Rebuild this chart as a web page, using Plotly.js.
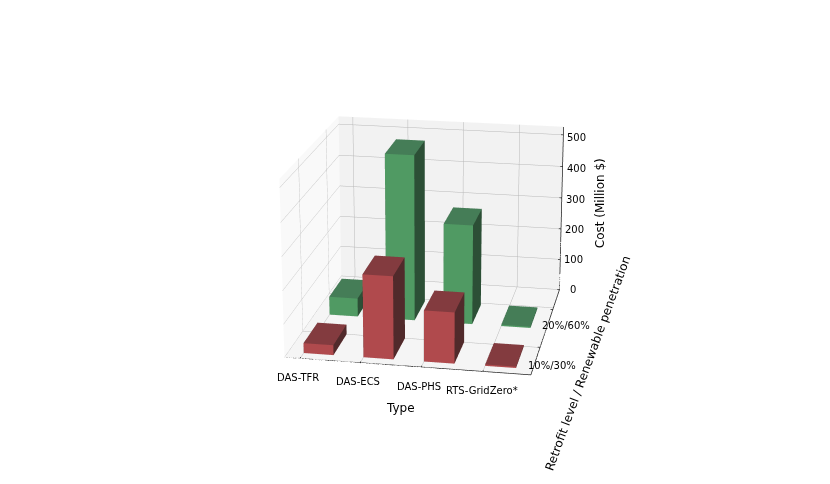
<!DOCTYPE html>
<html><head><meta charset="utf-8">
<script src="https://cdn.plot.ly/plotly-3.0.1.min.js"></script>
<style>html,body{margin:0;padding:0;background:#fff;width:830px;height:484px;overflow:hidden}
#w{position:absolute;left:0;top:0;width:830px;height:484px;overflow:hidden}
#c{position:absolute;left:-816px;top:-488px;width:2490px;height:1452px}</style>
</head><body><div id="w"><div id="c"></div></div>
<script>
const types = ["DAS-TFR","DAS-ECS","DAS-PHS","RTS-GridZero*"];
const levels = ["10%/30%","20%/60%"];
const levelPos = [0,0.95];
const costLow = [30,248,153,4];
const costHigh = [57,510,307,4];
const zTicks = [0,100,200,300,400,500];
const redShades = {front:"#b04a4d",side:"#512a2b",top:"#833b3f"};
const greenShades = {front:"#509a63",side:"#2c4f36",top:"#457d57"};
const barW = 0.5, barD = 0.5;
const xr = [-0.26,3.77], yr = [-0.63,1.5], zr = [0,525];
const axisCol = '#222222';
const lift = 0.6, inset = 0.004;

function cuboid(x0,y1,h,s){
  const x1=x0+barW,y0=y1-barD;
  return {type:'mesh3d',
    x:[x0,x1,x1,x0,x0,x1,x1,x0],
    y:[y0,y0,y1,y1,y0,y0,y1,y1],
    z:[0,0,0,0,h,h,h,h],
    i:[0,0,4,4,0,0,1,1,2,2,3,3],
    j:[1,2,5,6,1,5,2,6,3,7,0,4],
    k:[2,3,6,7,5,4,6,5,7,6,4,7],
    facecolor:[s.top,s.top,s.top,s.top,s.front,s.front,s.side,s.side,s.side,s.side,s.side,s.side],
    flatshading:true,opacity:1,
    lighting:{ambient:1,diffuse:0,specular:0,roughness:1,fresnel:0},
    hoverinfo:'skip',showscale:false};
}
function seg(xs,ys,zs){
  return {type:'scatter3d',mode:'lines',x:xs,y:ys,z:zs,line:{color:axisCol,width:1.5},hoverinfo:'skip',showlegend:false};
}
const data=[];
costHigh.forEach((v,i)=>data.push(cuboid(i,levelPos[1],v,greenShades)));
costLow.forEach((v,i)=>data.push(cuboid(i,levelPos[0],v,redShades)));
data.push(seg(xr,[yr[0],yr[0]],[lift,lift]));
data.push(seg([xr[1],xr[1]],yr,[lift,lift]));
data.push(seg([xr[1],xr[1]],[yr[1]-inset,yr[1]-inset],zr));
types.forEach((t,i)=>data.push(seg([i,i],[yr[0]-0.04,yr[0]+0.03],[lift,lift])));
levelPos.forEach(p=>data.push(seg([xr[1]-0.04,xr[1]+0.07],[p,p],[lift,lift])));
zTicks.forEach(z=>data.push(seg([xr[1]-0.04,xr[1]+0.07],[yr[1]-inset,yr[1]-inset],[z,z])));

const ann=[];
function lab(x,y,z,text,dx,dy,size,angle){
  ann.push({x,y,z,text,showarrow:false,xanchor:'center',yanchor:'middle',xshift:dx,yshift:dy,
    textangle:angle||0,font:{family:'DejaVu Sans',size:size||10,color:'#000'}});
}
const levelDx=[11.5,13.5], levelDy=[-18.5,-15.5];
types.forEach((t,i)=>lab(i,yr[0],0,t,-2+(i===3?1:0),-19));
levels.forEach((t,i)=>lab(xr[1],levelPos[i],0,t,levelDx[i],levelDy[i]));
zTicks.forEach(z=>lab(xr[1],yr[1],z,String(z),13.5,-3*z/500));
lab(1.5,yr[0],0,'Type',10,-42.5,12);
lab(xr[1],0.5,0,'Retrofit level / Renewable penetration',41,-36,12,-70);
lab(xr[1],yr[1],260,'Cost (Million $)',38.5,7,12,-90);

const axis = {showbackground:true,gridcolor:'#b8b8b8',gridwidth:1,
  zeroline:false,showspikes:false,showline:false,showticklabels:false,ticks:'',title:{text:''},autorange:false};
const layout={
  paper_bgcolor:'#fff',showlegend:false,margin:{l:0,r:0,t:0,b:0},
  width:2490,height:1452,
  font:{family:'DejaVu Sans',size:10,color:'#000'},
  scene:{
    domain:{x:[0,1],y:[0,1]},
    aspectmode:'manual',aspectratio:{x:1,y:1,z:0.75},
    camera:{eye:{x:1.27,y:-6.84,z:2.30},center:{x:0,y:0,z:0},up:{x:0,y:0,z:1},projection:{type:'perspective'}},
    annotations:ann,
    xaxis:Object.assign({},axis,{backgroundcolor:'#f9f9f9',tickmode:'array',tickvals:[0,1,2,3],range:xr}),
    yaxis:Object.assign({},axis,{backgroundcolor:'#f2f2f2',tickmode:'array',tickvals:[0,1],range:yr}),
    zaxis:Object.assign({},axis,{backgroundcolor:'#f5f5f5',tickmode:'array',tickvals:zTicks,range:zr})
  }
};
Plotly.newPlot('c',data,layout,{displayModeBar:false});
</script></body></html>
